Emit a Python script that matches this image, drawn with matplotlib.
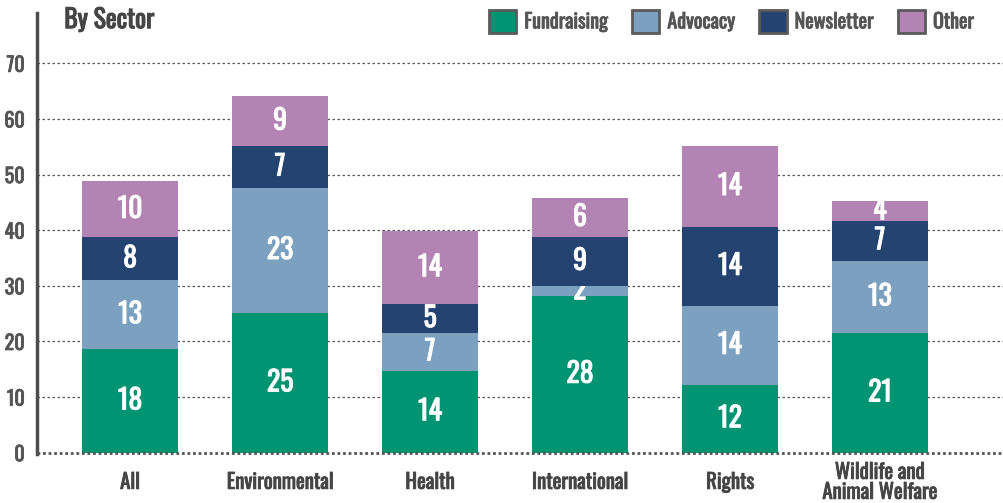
import numpy as np
import matplotlib
matplotlib.use("Agg")
from matplotlib import pyplot as plt
from matplotlib.patches import Patch
import matplotlib.patheffects as pe

plt.rcParams['font.family'] = ['Oswald', 'Roboto Condensed', 'DejaVu Sans']

sectors = ["All", "Environmental", "Health", "International", "Rights",
           "Wildlife and\nAnimal Welfare"]
series = ["Fundraising", "Advocacy", "Newsletter", "Other"]
colors = ["#009473", "#7ba0c0", "#254371", "#b383b4"]

# bar heights as drawn, labels as printed
fundraising = [18.6, 25.1, 14.7, 28.2, 12.2, 21.5]
advocacy    = [12.4, 22.5, 6.8, 1.8, 14.2, 13.0]
newsletter  = [7.7, 7.5, 5.2, 8.8, 14.2, 7.2]
other       = [10.1, 9.0, 13.1, 7.0, 14.5, 3.5]

fundraising_lbl = [18, 25, 14, 28, 12, 21]
advocacy_lbl    = [13, 23, 7, 2, 14, 13]
newsletter_lbl  = [8, 7, 5, 9, 14, 7]
other_lbl       = [10, 9, 14, 6, 14, 4]

values = [fundraising, advocacy, newsletter, other]
labels = [fundraising_lbl, advocacy_lbl, newsletter_lbl, other_lbl]
yticks = [0, 10, 20, 30, 40, 50, 60, 70]

gray = "#555555"
dark = "#454545"

def bold(col, w=0.6):
    # the installed Oswald has one weight only, thicken it with a stroke
    return [pe.withStroke(linewidth=w, foreground=col)]

fig = plt.figure(figsize=(10.04, 5.03), dpi=100)
ax = fig.add_axes([0.037, 0.1, 0.963, 0.8847])

x = np.arange(len(sectors))
bottom = np.zeros(len(sectors))
for vals, lbls, col in zip(values, labels, colors):
    bars = ax.bar(x, vals, 0.64, bottom=bottom, color=col, zorder=3)
    txts = ax.bar_label(bars, labels=[str(v) for v in lbls], label_type='center',
                        color='white', fontsize=20)
    for t in txts:
        t.set_path_effects(bold('white', 0.7))
    bottom += np.array(vals)

ax.set_xlim(-0.62, 5.827)
ax.set_ylim(0, 80)
ax.set_yticks(yticks)
ax.set_yticklabels([str(t) for t in yticks], fontsize=14.5, color=gray,
                   path_effects=bold(gray))
ax.set_xticks(x)
ax.set_xticklabels(sectors, fontsize=15, color=dark, linespacing=1.0,
                   path_effects=bold(dark))
for t in ax.get_xticklabels():
    t.set_va('center')
ax.tick_params(axis='x', length=0, pad=21)
ax.tick_params(axis='y', length=0, pad=9)

# dotted grid
for t in yticks[1:]:
    ax.axhline(t, color=gray, lw=0.9, ls=(0, (2, 2)), zorder=1)
ax.axhline(0, color=gray, lw=2, ls=(0, (1, 1)), zorder=4, clip_on=False)

for s in ['top', 'right', 'bottom']:
    ax.spines[s].set_visible(False)
ax.spines['left'].set_linewidth(2.5)
ax.spines['left'].set_color("#4d4d4d")
ax.spines['left'].set_bounds(-0.3, 79)

fig.text(0.064, 0.96, "By Sector", fontsize=18.5, color=dark,
         va='center', ha='left', path_effects=bold(dark, 0.8))

handles = [Patch(facecolor=c, edgecolor="#5a5a5a", lw=2) for c in colors]
leg = fig.legend(handles, series, loc='center right', bbox_to_anchor=(0.97, 0.957),
                 ncol=4, frameon=False, fontsize=14.5, handlelength=1.35,
                 handleheight=1.35, handletextpad=0.4, columnspacing=1.2,
                 labelcolor=gray, borderaxespad=0, borderpad=0)
for t in leg.get_texts():
    t.set_path_effects(bold(gray))

fig.savefig("out.png", dpi=100)
